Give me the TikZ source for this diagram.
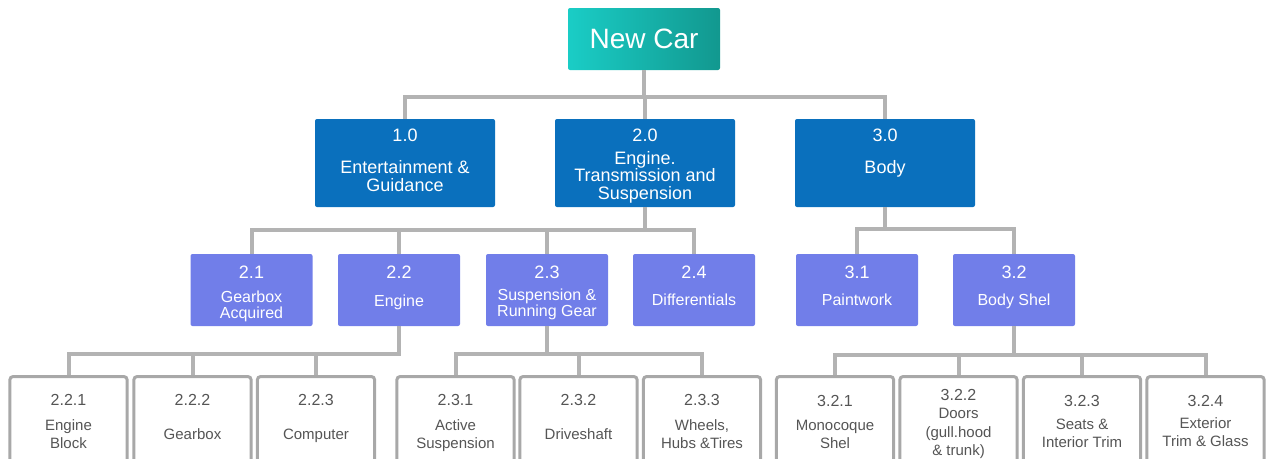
\documentclass[tikz,border=0pt]{standalone}
\usepackage{fontspec}
\setmainfont{Liberation Sans}
\definecolor{lineg}{HTML}{B3B3B3}
\definecolor{lvlone}{HTML}{0A70BD}
\definecolor{lvltwo}{HTML}{717EE9}
\definecolor{tealL}{HTML}{1ACDC6}
\definecolor{tealR}{HTML}{12988F}
\definecolor{boxg}{HTML}{A8A8A8}
\definecolor{txtg}{HTML}{555555}
\begin{document}
\begin{tikzpicture}[x=0.75pt,y=-0.75pt,
  conn/.style={draw=lineg, line width=3pt, line join=miter},
  topbox/.style={rectangle, rounded corners=1.5pt, left color=tealL, right color=tealR, draw=none,
    minimum width=114pt, minimum height=46.5pt, inner sep=0pt, text=white, font=\fontsize{21pt}{24pt}\selectfont},
  onebox/.style={rectangle, rounded corners=1.5pt, fill=lvlone, draw=none, minimum width=135pt, minimum height=66pt, inner sep=0pt},
  twobox/.style={rectangle, rounded corners=1.5pt, fill=lvltwo, draw=none, minimum width=91.5pt, minimum height=54pt, inner sep=0pt},
  threebox/.style={rectangle, rounded corners=2.5pt, draw=boxg, line width=2.25pt, fill=white, minimum width=88pt, minimum height=93pt, inner sep=0pt},
  tA/.style={inner sep=0pt, text=white, font=\fontsize{13.5pt}{16pt}\selectfont, text height=9.7pt, text depth=0pt},
  tB/.style={inner sep=0pt, text=white, font=\fontsize{12pt}{14pt}\selectfont, text height=8.6pt, text depth=0pt},
  tC/.style={inner sep=0pt, text=txtg, font=\fontsize{12pt}{14pt}\selectfont, text height=8.6pt, text depth=0pt},
  tD/.style={inner sep=0pt, text=txtg, font=\fontsize{11.25pt}{13pt}\selectfont, text height=8.1pt, text depth=0pt}
]
\useasboundingbox (0,0) rectangle (1270,458);
\clip (0,0) rectangle (1270,458);

% top
\node[topbox] (nc) at (644,39) {New Car};

% level 1
\node[onebox] (b10) at (405,163) {};
\node[onebox] (b20) at (645,163) {};
\node[onebox] (b30) at (885,163) {};
\node[tA] (b10n) at (405,135) {1.0};
\node[tA] (b10a) at (405,167) {Entertainment \&};
\node[tA] (b10b) at (405,185) {Guidance};
\node[tA] (b20n) at (645,135) {2.0};
\node[tA] (b20a) at (645,158) {Engine.};
\node[tA] (b20b) at (645,175.5) {Transmission and};
\node[tA] (b20c) at (645,193) {Suspension};
\node[tA] (b30n) at (885,135) {3.0};
\node[tA] (b30a) at (885,167) {Body};

% level 2
\node[twobox] (b21) at (251.5,290) {};
\node[twobox] (b22) at (399,290) {};
\node[twobox] (b23) at (547,290) {};
\node[twobox] (b24) at (694,290) {};
\node[twobox] (b31) at (857,290) {};
\node[twobox] (b32) at (1014,290) {};
\node[tA] (b21n) at (251.5,272) {2.1};
\node[tB] (b21a) at (251.5,297) {Gearbox};
\node[tB] (b21b) at (251.5,313) {Acquired};
\node[tA] (b22n) at (399,272) {2.2};
\node[tB] (b22a) at (399,300.5) {Engine};
\node[tA] (b23n) at (547,272) {2.3};
\node[tB] (b23a) at (547,295) {Suspension \&};
\node[tB] (b23b) at (547,311) {Running Gear};
\node[tA] (b24n) at (694,272) {2.4};
\node[tB] (b24a) at (694,300) {Differentials};
\node[tA] (b31n) at (857,272) {3.1};
\node[tB] (b31a) at (857,300) {Paintwork};
\node[tA] (b32n) at (1014,272) {3.2};
\node[tB] (b32a) at (1014,300) {Body Shel};

% level 3
\node[threebox] (c221) at (68.5,438.5) {};
\node[threebox] (c222) at (192.5,438.5) {};
\node[threebox] (c223) at (316,438.5) {};
\node[threebox] (c231) at (455.5,438.5) {};
\node[threebox] (c232) at (578.5,438.5) {};
\node[threebox] (c233) at (702,438.5) {};
\node[threebox] (c321) at (835,438.5) {};
\node[threebox] (c322) at (958.5,438.5) {};
\node[threebox] (c323) at (1082,438.5) {};
\node[threebox] (c324) at (1205.5,438.5) {};

\node[tC] (c221n) at (68.5,400) {2.2.1};
\node[tD] (c221a) at (68.5,425) {Engine};
\node[tD] (c221b) at (68.5,443) {Block};
\node[tC] (c222n) at (192.5,400) {2.2.2};
\node[tD] (c222a) at (192.5,434) {Gearbox};
\node[tC] (c223n) at (316,400) {2.2.3};
\node[tD] (c223a) at (316,434) {Computer};

\node[tC] (c231n) at (455.5,400) {2.3.1};
\node[tD] (c231a) at (455.5,425) {Active};
\node[tD] (c231b) at (455.5,443) {Suspension};
\node[tC] (c232n) at (578.5,400) {2.3.2};
\node[tD] (c232a) at (578.5,434) {Driveshaft};
\node[tC] (c233n) at (702,400) {2.3.3};
\node[tD] (c233a) at (702,425) {Wheels,};
\node[tD] (c233b) at (702,443) {Hubs \&Tires};

\node[tC] (c321n) at (835,401) {3.2.1};
\node[tD] (c321a) at (835,425) {Monocoque};
\node[tD] (c321b) at (835,443) {Shel};
\node[tC] (c322n) at (958.5,395) {3.2.2};
\node[tD] (c322a) at (958.5,413) {Doors};
\node[tD] (c322b) at (958.5,432) {(gull.hood};
\node[tD] (c322c) at (958.5,450) {\& trunk)};
\node[tC] (c323n) at (1082,401) {3.2.3};
\node[tD] (c323a) at (1082,424) {Seats \&};
\node[tD] (c323b) at (1082,442) {Interior Trim};
\node[tC] (c324n) at (1205.5,401) {3.2.4};
\node[tD] (c324a) at (1205.5,423) {Exterior};
\node[tD] (c324b) at (1205.5,441) {Trim \& Glass};

% connectors
\draw[conn] (nc.south) -- (nc.south |- 0,97);
\draw[conn] (b10.north) -- (b10.north |- 0,97) -- (b30.north |- 0,97) -- (b30.north);
\draw[conn] (b20.north) -- (b20.north |- 0,97);

\draw[conn] (b20.south) -- (b20.south |- 0,230);
\draw[conn] (b21.north) -- (b21.north |- 0,230) -- (b24.north |- 0,230) -- (b24.north);
\draw[conn] (b22.north) -- (b22.north |- 0,230);
\draw[conn] (b23.north) -- (b23.north |- 0,230);

\draw[conn] (b30.south) -- (b30.south |- 0,229);
\draw[conn] (b31.north) -- (b31.north |- 0,229) -- (b32.north |- 0,229) -- (b32.north);

\draw[conn] (c221.north) -- (c221.north |- 0,354) -- (b22.south |- 0,354) -- (b22.south);
\draw[conn] (c222.north) -- (c222.north |- 0,354);
\draw[conn] (c223.north) -- (c223.north |- 0,354);

\draw[conn] (b23.south) -- (b23.south |- 0,354);
\draw[conn] (c231.north) -- (c231.north |- 0,354) -- (c233.north |- 0,354) -- (c233.north);
\draw[conn] (c232.north) -- (c232.north |- 0,354);

\draw[conn] (b32.south) -- (b32.south |- 0,355);
\draw[conn] (c321.north) -- (c321.north |- 0,355) -- (c324.north |- 0,355) -- (c324.north);
\draw[conn] (c322.north) -- (c322.north |- 0,355);
\draw[conn] (c323.north) -- (c323.north |- 0,355);
\end{tikzpicture}
\end{document}
